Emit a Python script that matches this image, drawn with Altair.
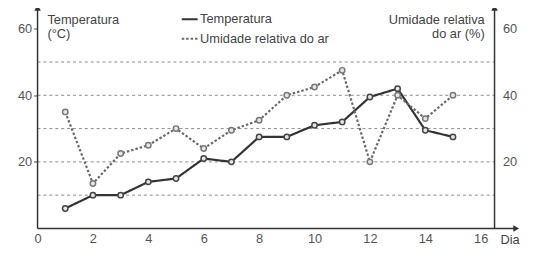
import altair as alt
import pandas as pd

days = list(range(1, 16))
temperatura = [6, 10, 10, 14, 15, 21, 20, 27.5, 27.5, 31, 32, 39.5, 42, 29.5, 27.5]
umidade = [35, 13.5, 22.5, 25, 30, 24, 29.5, 32.5, 40, 42.5, 47.5, 20, 40, 33, 40]
grid_values = [10, 20, 30, 40, 50]
x_ticks = [0, 2, 4, 6, 8, 10, 12, 14, 16]
y_ticks = [20, 40, 60]
series_names = ["Temperatura", "Umidade relativa do ar"]

W, H = 464, 218
FONT = "Liberation Sans"

rows = []
for d, t in zip(days, temperatura):
    rows.append({"dia": d, "valor": t, "series": series_names[0]})
for d, u in zip(days, umidade):
    rows.append({"dia": d, "valor": u, "series": series_names[1]})
df = pd.DataFrame(rows)
grid_df = pd.DataFrame({"g": grid_values})
one = pd.DataFrame({"a": [0]})

xs = alt.Scale(domain=[0, 16.5], nice=False, zero=False)
ys = alt.Scale(domain=[0, 64.5], nice=False, zero=False)

x_axis = alt.Axis(values=x_ticks, title=None, domain=False, ticks=False,
                  grid=False, labelFontSize=13, labelColor="#555555",
                  labelFont=FONT, labelPadding=4, labelFlush=False)

grid = alt.Chart(grid_df).mark_rule(color="#8a8a8a", strokeDash=[3, 3], strokeWidth=1).encode(
    y=alt.Y("g:Q", scale=ys, axis=None), x=alt.value(0), x2=alt.value(W)
)

color_scale = alt.Scale(domain=series_names, range=["#333333", "#6a6a6a"])
dash_scale = alt.Scale(domain=series_names, range=[[1, 0], [2.5, 2]])

lines = alt.Chart(df).mark_line(strokeWidth=2.2).encode(
    x=alt.X("dia:Q", scale=xs, axis=x_axis),
    y=alt.Y("valor:Q", scale=ys, axis=alt.Axis(values=y_ticks, title=None, domain=False, ticks=True,
                                               tickSize=4, tickColor="#444444", grid=False,
                                               labelFontSize=13, labelColor="#555555", labelFont=FONT,
                                               labelPadding=2)),
    color=alt.Color("series:N", scale=color_scale,
                    legend=alt.Legend(title=None, orient="none", legendX=145, legendY=-4,
                                      symbolType="stroke", symbolSize=260, symbolStrokeWidth=2,
                                      labelFontSize=13, labelFont=FONT, labelColor="#444444",
                                      rowPadding=3, labelOffset=1, padding=0, symbolOffset=0)),
    strokeDash=alt.StrokeDash("series:N", scale=dash_scale, legend=alt.Legend(title=None)),
    order="dia:Q",
)

points = alt.Chart(df).mark_point(filled=False, size=30, strokeWidth=1.5, fill="#e6e6e6", fillOpacity=1).encode(
    x=alt.X("dia:Q", scale=xs, axis=x_axis),
    y=alt.Y("valor:Q", scale=ys, axis=None),
    stroke=alt.Stroke("series:N", scale=alt.Scale(domain=series_names, range=["#444444", "#777777"]), legend=None),
)

right_axis = alt.Chart(one).mark_point(opacity=0).encode(
    y=alt.Y("a:Q", scale=ys, axis=alt.Axis(orient="right", values=y_ticks, title=None, domain=False,
                                           ticks=False, grid=False, labelFontSize=13,
                                           labelColor="#555555", labelFont=FONT, labelPadding=8)),
    x=alt.value(0),
)

axis_color = "#333333"
left_line = alt.Chart(one).mark_rule(color=axis_color, strokeWidth=1.5).encode(
    x=alt.value(0), y=alt.value(-4), y2=alt.value(H))
right_line = alt.Chart(one).mark_rule(color=axis_color, strokeWidth=1.5).encode(
    x=alt.value(W), y=alt.value(-4), y2=alt.value(H))
bottom_line = alt.Chart(one).mark_rule(color=axis_color, strokeWidth=1.5).encode(
    x=alt.value(0), x2=alt.value(484), y=alt.value(H))
arrow_left = alt.Chart(one).mark_point(shape="triangle-up", filled=True, size=45, color=axis_color, opacity=1).encode(
    x=alt.value(0), y=alt.value(-6))
arrow_right = alt.Chart(one).mark_point(shape="triangle-up", filled=True, size=45, color=axis_color, opacity=1).encode(
    x=alt.value(W), y=alt.value(-6))
arrow_x = alt.Chart(one).mark_point(shape="triangle-right", filled=True, size=45, color=axis_color, opacity=1).encode(
    x=alt.value(486), y=alt.value(H))

def txt(s, x, y, align):
    return alt.Chart(one).mark_text(text=s, align=align, baseline="middle", fontSize=13,
                                    font=FONT, color="#444444").encode(x=alt.value(x), y=alt.value(y))

titles = [
    txt("Temperatura", 10, 6, "left"),
    txt("(°C)", 10, 21, "left"),
    txt("Umidade relativa", 454, 6, "right"),
    txt("do ar (%)", 454, 21, "right"),
    txt("Dia", 470, H + 12, "left"),
]

chart = alt.layer(
    grid, right_axis, lines, points, left_line, right_line, bottom_line,
    arrow_left, arrow_right, arrow_x, *titles
).resolve_axis(y="independent").properties(
    width=W, height=H,
    padding={"left": 30, "top": 4, "right": 35, "bottom": 16},
    autosize=alt.AutoSizeParams(type="none"),
).configure_view(stroke=None)

chart.save("out.html", embed_options={"renderer": "svg", "actions": False})
